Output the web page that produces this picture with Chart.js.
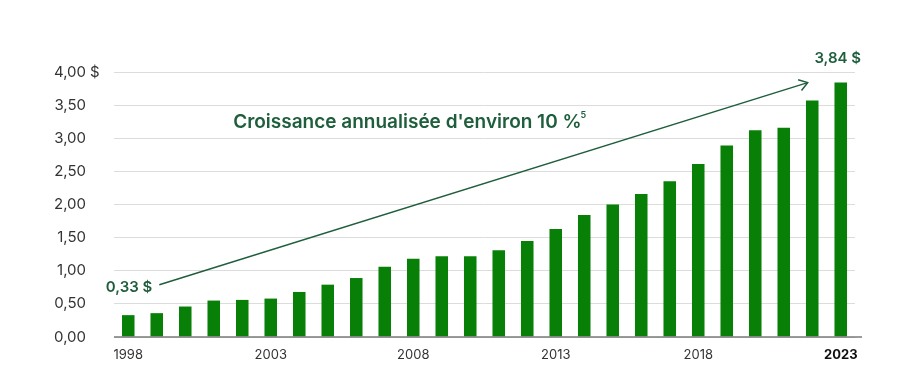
<!DOCTYPE html>
<html><head><meta charset="utf-8">
<script src="https://cdn.jsdelivr.net/npm/chart.js@4/dist/chart.umd.min.js"></script>
<style>html,body{margin:0;padding:0;background:#fff}#wrap{width:900px;height:380px}</style>
</head><body><div id="wrap"><canvas id="c" width="900" height="380"></canvas></div>
<script>
const years = ["1998","1999","2000","2001","2002","2003","2004","2005","2006","2007","2008","2009","2010","2011","2012","2013","2014","2015","2016","2017","2018","2019","2020","2021","2022","2023"];
const dividends = [0.33,0.36,0.46,0.55,0.56,0.58,0.68,0.79,0.89,1.06,1.18,1.22,1.22,1.31,1.45,1.63,1.84,2.00,2.16,2.35,2.61,2.89,3.12,3.16,3.57,3.84];
const shownYears = ["1998","2003","2008","2013","2018","2023"];
const boldYear = "2023";
const yTicks = [0,0.5,1,1.5,2,2.5,3,3.5,4];
const startLabel = "0,33 $";
const endLabel = "3,84 $";
const growthText = "Croissance annualisée d'environ 10 %";
const growthNote = "5";

const GREEN_TXT = '#1f5e3c';
const FONT = 'Inter, "Open Sans", sans-serif';
const fmt = v => v.toFixed(2).replace('.', ',');

const annot = {
  id: 'annot',
  afterDraw(chart) {
    const ctx = chart.ctx, xs = chart.scales.x, ys = chart.scales.y, a = chart.chartArea;
    ctx.save();
    // baseline
    ctx.strokeStyle = '#7a7a7a'; ctx.lineWidth = 1.5;
    ctx.beginPath(); ctx.moveTo(a.left, ys.getPixelForValue(0)); ctx.lineTo(a.right + 7, ys.getPixelForValue(0)); ctx.stroke();
    // "$" after top tick
    ctx.fillStyle = '#333'; ctx.font = '15px ' + FONT; ctx.textBaseline = 'middle'; ctx.textAlign = 'left';
    ctx.fillText('$', 90, ys.getPixelForValue(4));
    // arrow
    const x1 = xs.getPixelForValue(1.09), y1 = ys.getPixelForValue(0.79);
    const x2 = xs.getPixelForValue(23.84), y2 = ys.getPixelForValue(3.84);
    ctx.strokeStyle = GREEN_TXT; ctx.lineWidth = 1.5;
    ctx.beginPath(); ctx.moveTo(x1, y1); ctx.lineTo(x2, y2); ctx.stroke();
    const ang = Math.atan2(y2 - y1, x2 - x1), L = 10, w = 0.6;
    ctx.beginPath();
    ctx.moveTo(x2 - L * Math.cos(ang - w), y2 - L * Math.sin(ang - w));
    ctx.lineTo(x2, y2);
    ctx.lineTo(x2 - L * Math.cos(ang + w), y2 - L * Math.sin(ang + w));
    ctx.stroke();
    // labels
    ctx.fillStyle = GREEN_TXT; ctx.font = '600 15px ' + FONT;
    ctx.textAlign = 'right';
    ctx.fillText(startLabel, x1 - 7, ys.getPixelForValue(0.74));
    ctx.textAlign = 'center';
    ctx.fillText(endLabel, xs.getPixelForValue(25) - 3, ys.getPixelForValue(4.2));
    ctx.textAlign = 'left';
    ctx.font = '600 19px ' + FONT;
    const tx = xs.getPixelForValue(3.68), ty = ys.getPixelForValue(3.24);
    ctx.fillText(growthText, tx, ty);
    const tw = ctx.measureText(growthText).width;
    ctx.font = '600 9px ' + FONT;
    ctx.fillText(growthNote, tx + tw - 1, ty - 7);
    ctx.restore();
  }
};

new Chart(document.getElementById('c'), {
  type: 'bar',
  data: { labels: years, datasets: [{ data: dividends, backgroundColor: '#088008', borderWidth: 0, categoryPercentage: 1, barPercentage: 0.44 }] },
  options: {
    responsive: false, animation: false,
    layout: { padding: { top: 72, right: 45, left: 0, bottom: 0 } },
    plugins: { legend: { display: false }, tooltip: { enabled: false } },
    scales: {
      x: {
        grid: { display: false, drawTicks: false },
        border: { display: false },
        ticks: {
          autoSkip: false, maxRotation: 0, padding: 10,
          font: ctx => ({ family: FONT, size: 13, weight: years[ctx.index] === boldYear ? 'bold' : 'normal' }),
          color: ctx => years[ctx.index] === boldYear ? '#111' : '#333',
          callback: (v, i) => shownYears.includes(years[i]) ? years[i] : ''
        },
        afterFit: s => { s.height = 43; }
      },
      y: {
        min: 0, max: 4,
        afterBuildTicks: s => { s.ticks = yTicks.map(v => ({ value: v })); },
        grid: { color: '#dcdcdc', lineWidth: 1, drawTicks: false },
        border: { display: false },
        ticks: { padding: 28, color: '#333', font: { family: FONT, size: 15 }, callback: v => fmt(v) },
        afterFit: s => { s.width = 114; }
      }
    }
  },
  plugins: [annot]
});
</script></body></html>
